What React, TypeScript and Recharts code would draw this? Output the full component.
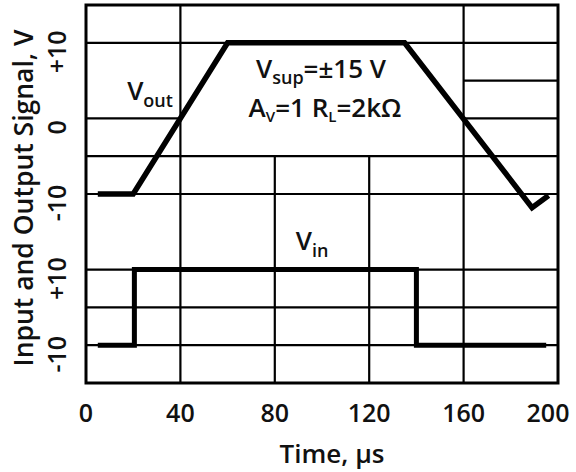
import { LineChart, Line, XAxis, YAxis, ReferenceLine, ReferenceArea, Customized } from "recharts";

// output waveform (upper trace), volts on the upper scale
const vOutTime = [5, 20, 60, 135, 189, 196];
const vOutVolts = [-10, -10, 10, 10, -11.8, -10.2];

// input square wave (lower trace), volts on the lower scale
const vInTime = [5, 20.5, 20.5, 140, 140, 195];
const vInVolts = [-10, -10, 10, 10, -10, -10];

const timeTicks = [0, 40, 80, 120, 160, 200];

// ticks on the upper scale; -20 / -30 fall on the lower trace's +10 / -10
const voltTicks = [10, 0, -10, -20, -30];
const voltTickLabels = ["+10", "0", "-10", "+10", "-10"];

// grid, in upper-scale volts / microseconds
const fullRows = [10, -5, -10, -20, -25, -30];
const fullCols = [40, 160];
const shortCols = [80, 120];
const partRows = [
  { y: 5, from: 160, to: 200 },
  { y: 0, from: 0, to: 40 },
  { y: 0, from: 160, to: 200 },
];

const vOutData = vOutTime.map((t, i) => ({ t, v: vOutVolts[i] }));
const vInData = vInTime.map((t, i) => ({ t, v: vInVolts[i] }));

const FONT = "'Open Sans', Lato, sans-serif";
const WEIGHT = 650;
const GRID = { stroke: "#000", strokeWidth: 2.2 };

const XTick = (props: any) => {
  const { x, y, payload } = props;
  const shift = payload.value === 200 ? -10 : 0;
  return (
    <text x={x + shift} y={y + 31} textAnchor="middle" fontFamily={FONT} fontWeight={WEIGHT} fontSize={25} fill="#111">
      {payload.value}
    </text>
  );
};

const YTick = (props: any) => {
  const { y, payload } = props;
  const idx = voltTicks.indexOf(payload.value);
  const cy = y + 9;
  return (
    <text
      x={56}
      y={cy}
      transform={`rotate(-90 56 ${cy})`}
      textAnchor="middle"
      dominantBaseline="central"
      fontFamily={FONT}
      fontWeight={WEIGHT}
      fontSize={25}
      fill="#111"
    >
      {voltTickLabels[idx]}
    </text>
  );
};

const Annotations = () => (
  <g fontFamily={FONT} fontWeight={WEIGHT} fill="#111">
    <text x={321} y={78} textAnchor="middle" fontSize={26}>
      V<tspan fontSize={18} dy={6}>sup</tspan>
      <tspan dy={-6}>=±15 V</tspan>
    </text>
    <text x={325} y={117} textAnchor="middle" fontSize={26}>
      A<tspan fontSize={15} dy={5}>V</tspan>
      <tspan dy={-5}>=1 R</tspan>
      <tspan fontSize={15} dy={5}>L</tspan>
      <tspan dy={-5}>=2kΩ</tspan>
    </text>
    <text x={150} y={100} textAnchor="middle" fontSize={26}>
      V<tspan fontSize={18} dy={7}>out</tspan>
    </text>
    <text x={312} y={250} textAnchor="middle" fontSize={26}>
      V<tspan fontSize={18} dy={7}>in</tspan>
    </text>
    <text x={332} y={463} textAnchor="middle" fontSize={26}>
      Time, µs
    </text>
    <text x={33} y={198} transform="rotate(-90 33 198)" textAnchor="middle" fontSize={26.5}>
      Input and Output Signal, V
    </text>
  </g>
);

export default function App() {
  return (
    <div style={{ position: "absolute", left: 0, top: 0, background: "#fff" }}>
      <LineChart width={576} height={472} margin={{ top: 5, right: 18, bottom: 29, left: 26 }}>
        <XAxis
          dataKey="t"
          type="number"
          domain={[0, 200]}
          ticks={timeTicks}
          axisLine={false}
          tickLine={false}
          height={60}
          tick={<XTick />}
          allowDuplicatedCategory={false}
        />
        <YAxis
          yAxisId="out"
          type="number"
          domain={[-35, 15]}
          ticks={voltTicks}
          axisLine={false}
          tickLine={false}
          width={60}
          tick={<YTick />}
        />
        <YAxis yAxisId="in" type="number" domain={[-20, 80]} hide />

        {fullRows.map((y) => (
          <ReferenceLine key={`r${y}`} yAxisId="out" y={y} {...GRID} />
        ))}
        {fullCols.map((x) => (
          <ReferenceLine key={`c${x}`} yAxisId="out" x={x} {...GRID} />
        ))}
        {shortCols.map((x) => (
          <ReferenceLine
            key={`s${x}`}
            yAxisId="out"
            segment={[{ x, y: -5 }, { x, y: -35 }]}
            {...GRID}
          />
        ))}
        {partRows.map((r, i) => (
          <ReferenceLine
            key={`p${i}`}
            yAxisId="out"
            segment={[{ x: r.from, y: r.y }, { x: r.to, y: r.y }]}
            {...GRID}
          />
        ))}
        <ReferenceArea yAxisId="out" x1={0} x2={200} y1={-35} y2={15} fill="none" stroke="#000" strokeWidth={3} />

        <Line
          yAxisId="out"
          data={vOutData}
          dataKey="v"
          stroke="#000"
          strokeWidth={5.5}
          dot={false}
          isAnimationActive={false}
        />
        <Line
          yAxisId="in"
          data={vInData}
          dataKey="v"
          stroke="#000"
          strokeWidth={5}
          dot={false}
          isAnimationActive={false}
        />
        <Customized component={Annotations} />
      </LineChart>
    </div>
  );
}
